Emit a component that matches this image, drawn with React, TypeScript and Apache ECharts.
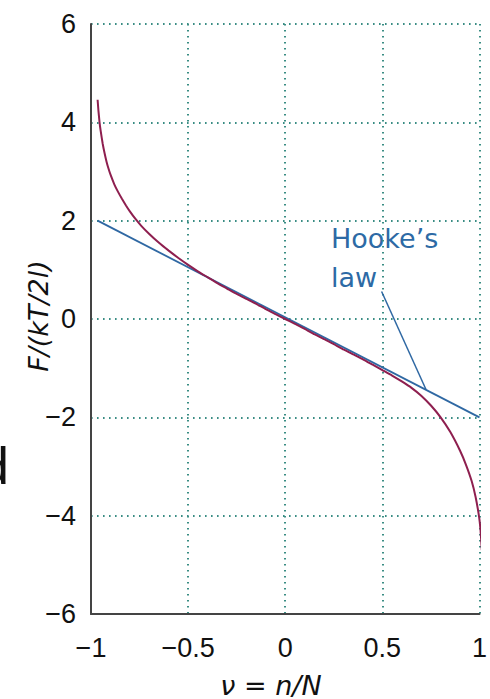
import React, { useEffect, useRef } from "react";
import * as echarts from "echarts";

const xTicks = [-1, -0.5, 0, 0.5, 1];
const yTicks = [-6, -4, -2, 0, 2, 4, 6];

// v = n/N and F/(kT/2l)
const curveV = [-0.966, -0.962, -0.956, -0.95, -0.94, -0.93, -0.92, -0.91, -0.9, -0.88, -0.86, -0.84, -0.82, -0.8, -0.77, -0.74, -0.7, -0.65, -0.6, -0.55, -0.5, -0.45, -0.4, -0.35, -0.3, -0.25, -0.2, -0.15, -0.1, -0.05, 0, 0.05, 0.1, 0.15, 0.2, 0.25, 0.3, 0.35, 0.4, 0.45, 0.5, 0.55, 0.6, 0.65, 0.7, 0.75, 0.8, 0.85, 0.9, 0.93, 0.96, 0.98, 0.997, 1.005, 1.012];
const curveF = [4.46, 4.25, 4.0, 3.82, 3.57, 3.37, 3.2, 3.06, 2.94, 2.74, 2.58, 2.44, 2.31, 2.19, 2.03, 1.89, 1.73, 1.55, 1.39, 1.24, 1.1, 0.97, 0.85, 0.73, 0.62, 0.51, 0.41, 0.31, 0.2, 0.1, 0, -0.1, -0.2, -0.31, -0.41, -0.51, -0.62, -0.72, -0.82, -0.93, -1.04, -1.15, -1.27, -1.4, -1.56, -1.76, -2.0, -2.3, -2.68, -2.96, -3.3, -3.62, -4.0, -4.28, -4.7];

// Hooke's law straight line
const hookeV = [-0.966, 1.0];
const hookeF = [2.0, -2.0];

// leader line from label to Hooke's line
const leaderV = [0.496, 0.724];
const leaderF = [0.56, -1.43];

const FONT = "Liberation Sans, Arial, sans-serif";
const FONT2 = "DejaVu Sans, Liberation Sans, Arial, sans-serif";

export default function App() {
  const ref = useRef<HTMLDivElement>(null);
  useEffect(() => {
    if (!ref.current) return;
    const chart = echarts.init(ref.current, undefined, { renderer: "svg" });
    const fmt = (v: number) => String(v).replace("-", "\u2212");
    const gridLine = { show: true, lineStyle: { color: "#3a8d84", width: 2, type: [1.6, 4.4] as any } };
    chart.setOption({
      animation: false,
      grid: { left: 91, right: 7, top: 24, bottom: 85, containLabel: false },
      xAxis: {
        type: "value",
        min: xTicks[0],
        max: xTicks[xTicks.length - 1],
        interval: 0.5,
        axisLine: { show: true, onZero: false, lineStyle: { color: "#444", width: 2 } },
        axisTick: { show: false },
        splitLine: gridLine,
        axisLabel: { formatter: fmt, color: "#111", fontSize: 27, fontFamily: FONT, margin: 20, showMinLabel: true, showMaxLabel: true },
      },
      yAxis: {
        type: "value",
        min: yTicks[0],
        max: yTicks[yTicks.length - 1],
        interval: 2,
        axisLine: { show: true, onZero: false, lineStyle: { color: "#444", width: 2 } },
        axisTick: { show: false },
        splitLine: gridLine,
        axisLabel: { formatter: fmt, color: "#111", fontSize: 27, fontFamily: FONT, margin: 15 },
      },
      series: [
        {
          type: "line",
          data: hookeV.map((v, i) => [v, hookeF[i]]),
          showSymbol: false,
          clip: false,
          lineStyle: { color: "#2f68a3", width: 1.8 },
        },
        {
          type: "line",
          data: leaderV.map((v, i) => [v, leaderF[i]]),
          showSymbol: false,
          clip: false,
          lineStyle: { color: "#2f68a3", width: 1.5 },
        },
        {
          type: "line",
          data: curveV.map((v, i) => [v, curveF[i]]),
          smooth: 0.15,
          showSymbol: false,
          clip: false,
          lineStyle: { color: "#8e1f4f", width: 2 },
        },
      ],
      graphic: [
        {
          type: "text",
          x: 331,
          y: 238,
          style: { text: "Hooke\u2019s", fill: "#2d6aa5", font: `27px ${FONT2}`, textAlign: "left", textVerticalAlign: "middle" },
        },
        {
          type: "text",
          x: 331,
          y: 277,
          style: { text: "law", fill: "#2d6aa5", font: `27px ${FONT2}`, textAlign: "left", textVerticalAlign: "middle" },
        },
        {
          type: "text",
          x: 38,
          y: 316,
          rotation: Math.PI / 2,
          style: { text: "F/(kT/2l)", fill: "#111", font: `italic 27px ${FONT2}`, textAlign: "center", textVerticalAlign: "middle" },
        },
        {
          type: "text",
          x: 271,
          y: 685,
          style: { text: "\u03bd = n/N", fill: "#111", font: `italic 27px ${FONT2}`, textAlign: "center", textVerticalAlign: "middle" },
        },
        {
          type: "text",
          x: 9,
          y: 466,
          style: { text: "d", fill: "#111", font: `52px ${FONT}`, textAlign: "right", textVerticalAlign: "middle" },
        },
      ],
    });
    return () => chart.dispose();
  }, []);
  return <div ref={ref} style={{ position: "fixed", left: 0, top: 0, width: 490, height: 699, background: "#fff" }} />;
}
